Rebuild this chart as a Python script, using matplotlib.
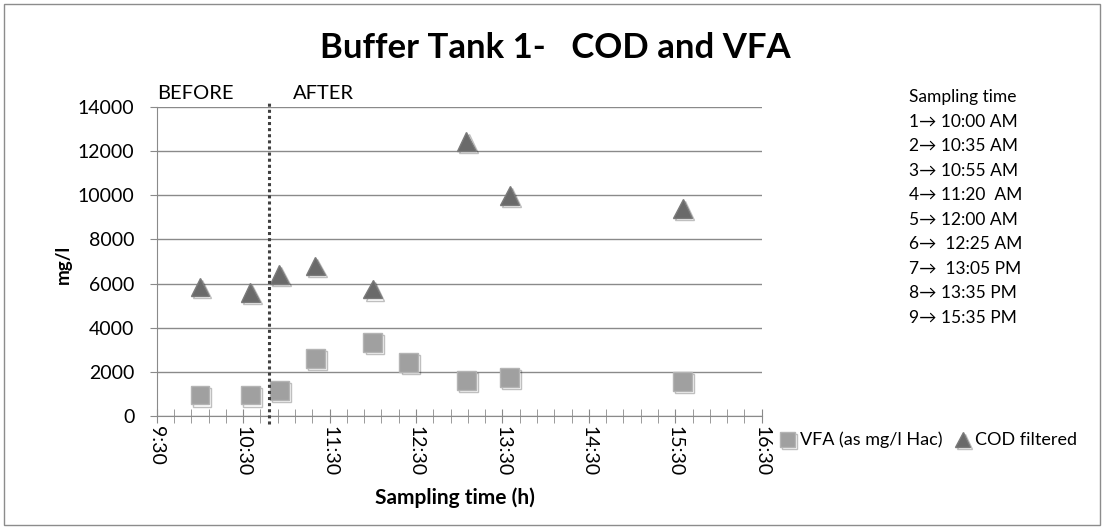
import matplotlib.pyplot as plt
import matplotlib.patheffects as pe
from matplotlib.ticker import MultipleLocator, FixedLocator, FuncFormatter
from matplotlib.patches import Rectangle

plt.rcParams['font.family'] = ['Lato', 'DejaVu Sans']

# sampling times and measured values (mg/l)
sample_times = ['10:00', '10:35', '10:55', '11:20', '12:00', '12:25', '13:05', '13:35', '15:35']
vfa = [950, 950, 1170, 2620, 3320, 2420, 1600, 1760, 1560]
cod = [5850, 5600, 6400, 6800, 5750, None, 12450, 9980, 9400]
split_time = '10:48'
legend_lines = ['1\u2192 10:00 AM', '2\u2192 10:35 AM', '3\u2192 10:55 AM', '4\u2192 11:20  AM',
                '5\u2192 12:00 AM', '6\u2192  12:25 AM', '7\u2192  13:05 PM', '8\u2192 13:35 PM',
                '9\u2192 15:35 PM']

def to_hours(t):
    h, m = t.split(':')
    return int(h) + int(m) / 60.0

x = [to_hours(t) for t in sample_times]
cod_x = [xi for xi, c in zip(x, cod) if c is not None]
cod_y = [c for c in cod if c is not None]

fig = plt.figure(figsize=(11.04, 5.29), dpi=100)
fig.patches.append(Rectangle((0.004, 0.008), 0.992, 0.984, transform=fig.transFigure,
                             fill=False, edgecolor='#8c8c8c', linewidth=1))
ax = fig.add_axes([0.142, 0.2136, 0.548, 0.584])

shadow = [pe.SimpleLineShadow(offset=(1.5, -1.5), alpha=0.25), pe.Normal()]
ax.plot(x, vfa, linestyle='none', marker='s', markersize=13.5, color='#a0a0a0',
        markeredgecolor='#b4b4b4', markeredgewidth=1, label='VFA (as mg/l Hac)',
        path_effects=shadow, zorder=3)
ax.plot(cod_x, cod_y, linestyle='none', marker='^', markersize=13.5, color='#6a6a6a',
        markeredgecolor='#7a7a7a', markeredgewidth=1, label='COD filtered',
        path_effects=shadow, zorder=3)

ax.axvline(to_hours(split_time), ymin=-0.025, ymax=1.015, clip_on=False, color='#404040',
           linestyle=(0, (1, 1)), linewidth=2.2, zorder=4)

ax.set_xlim(9.5, 16.5)
ax.set_ylim(0, 14000)
ax.yaxis.set_major_locator(MultipleLocator(2000))
ax.xaxis.set_major_locator(FixedLocator([9.5 + i for i in range(8)]))
ax.xaxis.set_minor_locator(FixedLocator([9.5 + i * 0.2 for i in range(36)]))
ax.xaxis.set_major_formatter(FuncFormatter(lambda v, p: '%d:%02d' % (int(v), round((v - int(v)) * 60))))
ax.grid(axis='y', color='#8a8a8a', linewidth=1)
ax.set_axisbelow(True)
for s in ['top', 'right']:
    ax.spines[s].set_visible(False)
ax.spines['left'].set_color('#8a8a8a')
ax.spines['bottom'].set_color('#8a8a8a')
ax.tick_params(axis='x', which='both', direction='inout', length=10, color='#8a8a8a',
               labelsize=14, rotation=270, pad=2)
ax.tick_params(axis='y', length=5, color='#8a8a8a', direction='out', labelsize=14, pad=11)
ax.set_ylabel('mg/l', fontsize=13.5, fontweight='bold', va='center')
ax.yaxis.set_label_coords(-0.155, 0.49)
ax.set_xlabel('Sampling time (h)', fontsize=15, fontweight='bold', va='center')
ax.xaxis.set_label_coords(0.4926, -0.265)

fig.text(0.503, 0.909, 'Buffer Tank 1-   COD and VFA', ha='center', va='center',
         fontsize=25, fontweight='bold')
ax.text(9.5, 14250, 'BEFORE', fontsize=14.5, va='bottom', ha='left')
ax.text(11.07, 14250, 'AFTER', fontsize=14.5, va='bottom', ha='left')

fig.text(0.823, 0.8166, 'Sampling time', fontsize=12.5, va='center')
for i, line in enumerate(legend_lines):
    fig.text(0.823, 0.7694 - i * 0.0463, line, fontsize=12.5, va='center')

fig.legend(loc='center left', bbox_to_anchor=(0.697, 0.168), ncol=2, frameon=False,
           fontsize=13, handlelength=0.8, handletextpad=0.3, columnspacing=0.7,
           markerscale=0.8, borderaxespad=0.2)

fig.savefig('out.png', dpi=100)
